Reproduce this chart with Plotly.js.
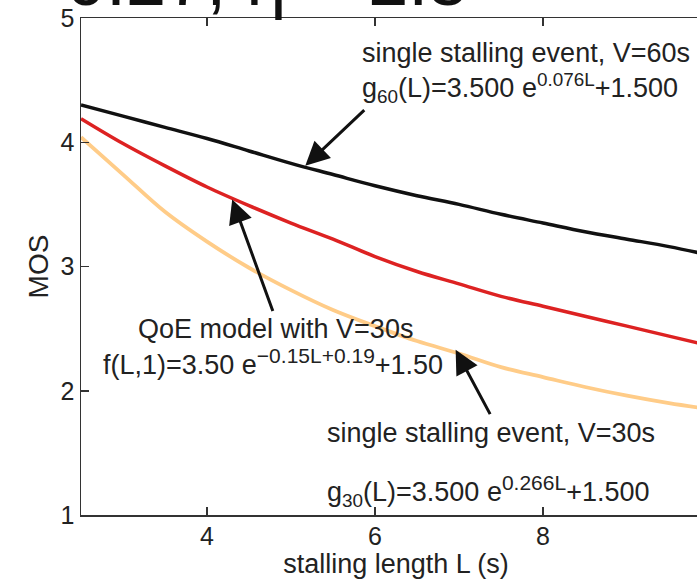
<!DOCTYPE html>
<html>
<head>
<meta charset="utf-8">
<script src="https://cdn.plot.ly/plotly-3.0.1.min.js"></script>
<style>
html,body{margin:0;padding:0;overflow:hidden;background:#fff;}
#chart{width:720px;height:580px;}
</style>
</head>
<body>
<div id="chart"></div>
<script>
// stalling length L (s)
const stallLength = [2.5, 3.0, 3.5, 4.0, 4.5, 5.0, 5.5, 6.0, 6.5, 7.0, 7.5, 8.0, 8.5, 9.0, 9.5, 10.0];
// single stalling event, V=60s (black)
const mosG60 = [4.30, 4.21, 4.12, 4.03, 3.93, 3.83, 3.74, 3.65, 3.57, 3.50, 3.42, 3.35, 3.28, 3.22, 3.16, 3.09];
// QoE model with V=30s (red)
const mosModel30 = [4.19, 3.99, 3.81, 3.64, 3.49, 3.35, 3.22, 3.08, 2.96, 2.86, 2.76, 2.68, 2.60, 2.52, 2.44, 2.36];
// single stalling event, V=30s (light orange)
const mosG30 = [4.04, 3.74, 3.44, 3.20, 2.99, 2.81, 2.65, 2.52, 2.40, 2.30, 2.19, 2.11, 2.03, 1.96, 1.90, 1.85];

const xTicks = [2, 4, 6, 8, 10];
const yTicks = [1, 2, 3, 4, 5];

const FONT = '"Liberation Sans", Arial, Helvetica, sans-serif';
const TXT = '#222222';

const traces = [
  {x: stallLength, y: mosG30, mode: 'lines', line: {color: '#FFCC88', width: 3.8, shape: 'spline'}, hoverinfo: 'skip'},
  {x: stallLength, y: mosModel30, mode: 'lines', line: {color: '#DD2222', width: 3.5, shape: 'spline'}, hoverinfo: 'skip'},
  {x: stallLength, y: mosG60, mode: 'lines', line: {color: '#111111', width: 3.5, shape: 'spline'}, hoverinfo: 'skip'}
];

function txt(text, x, y) {
  return {text: text, x: x, y: y, xref: 'x', yref: 'y', xanchor: 'left', yanchor: 'middle',
          showarrow: false, font: {family: FONT, size: 27, color: TXT}};
}
function arrow(x, y, ax, ay) {
  return {text: '', x: x, y: y, ax: ax, ay: ay, xref: 'x', yref: 'y', axref: 'x', ayref: 'y',
          showarrow: true, arrowhead: 2, arrowsize: 1.6, arrowwidth: 3, arrowcolor: '#111111'};
}
const bigSup = s => '<sup><span style="font-size:21px">' + s + '</span></sup>';

const annotations = [
  txt('single stalling event, V=60s', 5.82, 4.72),
  txt('g<sub>60</sub>(L)=3.500 e<sup>0.076L</sup>+1.500', 5.82, 4.44),
  txt('QoE model with V=30s', 3.15, 2.50),
  txt('f(L,1)=3.50 e' + bigSup('\u22120.15L+0.19') + '+1.50', 2.74, 2.23),
  txt('single stalling event, V=30s', 5.40, 1.66),
  txt('g<sub>30</sub>(L)=3.500 e' + bigSup('0.266L') + '+1.500', 5.40, 1.19),
  arrow(5.17, 3.81, 5.89, 4.27),
  arrow(4.30, 3.54, 4.79, 2.63),
  arrow(6.96, 2.33, 7.38, 1.80),
  {text: '= 0.27, \u03B7 = 2.5', xref: 'paper', yref: 'paper', x: -0.125, y: 1.0, xanchor: 'left', yanchor: 'bottom',
   yshift: -4, showarrow: false, font: {family: FONT, size: 72, color: '#111111'}}
];

const axisCommon = {
  showgrid: false, zeroline: false, showline: true, linecolor: '#333333', linewidth: 1.5,
  mirror: 'ticks', ticks: 'inside', ticklen: 8, tickwidth: 1.5, tickcolor: '#333333',
  tickfont: {family: FONT, size: 25, color: TXT}
};

const layout = {
  width: 720, height: 580,
  margin: {l: 81, r: 9, t: 18, b: 65},
  paper_bgcolor: '#ffffff', plot_bgcolor: '#ffffff',
  showlegend: false,
  xaxis: Object.assign({}, axisCommon, {
    range: [2.5, 10], tickvals: xTicks, ticktext: xTicks.map(String), ticklabelstandoff: -2,
    title: {text: 'stalling length L (s)', font: {family: FONT, size: 27, color: TXT}, standoff: 0}
  }),
  yaxis: Object.assign({}, axisCommon, {
    range: [1, 5], tickvals: yTicks, ticktext: yTicks.map(String),
    title: {text: 'MOS', font: {family: FONT, size: 28, color: TXT}, standoff: 4}
  }),
  annotations: annotations
};

Plotly.newPlot('chart', traces, layout, {staticPlot: true, displayModeBar: false});
</script>
</body>
</html>
